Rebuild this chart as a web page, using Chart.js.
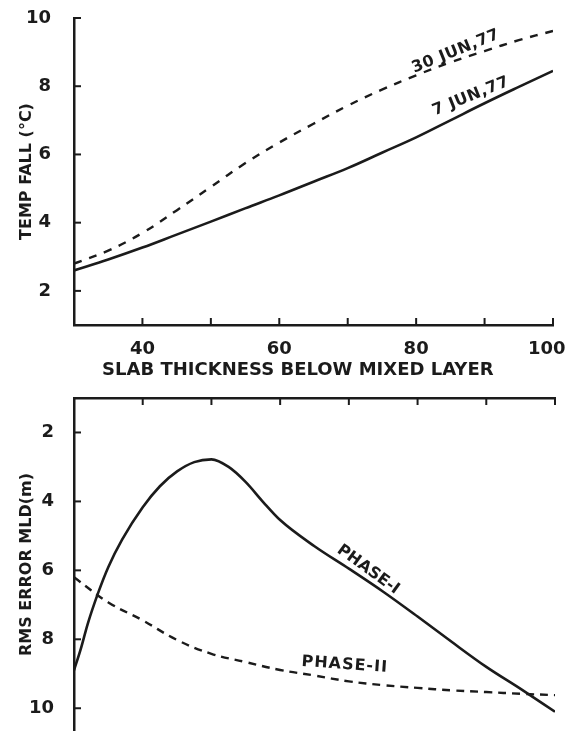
<!DOCTYPE html>
<html>
<head>
<meta charset="utf-8">
<script src="https://cdn.jsdelivr.net/npm/chart.js@4.4.1/dist/chart.umd.min.js"></script>
<style>
  html, body { margin: 0; padding: 0; background: #fff; }
  body { width: 570px; height: 731px; position: relative; overflow: hidden; }
  .panel { position: absolute; left: 0; width: 570px; }
  #topPanel { top: 0; height: 390px; }
  #bottomPanel { top: 390px; height: 341px; }
</style>
</head>
<body>
<div class="panel" id="topPanel"><canvas id="tempChart"></canvas></div>
<div class="panel" id="bottomPanel"><canvas id="rmsChart"></canvas></div>
<script>
// upper panel: temp fall vs slab thickness below mixed layer
const slabThickness = [30, 35, 40, 45, 50, 55, 60, 65, 70, 75, 80, 85, 90, 95, 100];
const tempFall7Jun = [2.6, 2.92, 3.27, 3.65, 4.03, 4.42, 4.8, 5.2, 5.6, 6.05, 6.5, 7.0, 7.5, 7.98, 8.45];
const tempFall30Jun = [2.8, 3.18, 3.7, 4.36, 5.05, 5.74, 6.35, 6.9, 7.43, 7.9, 8.32, 8.7, 9.03, 9.35, 9.62];
const tempTicks = [2, 4, 6, 8, 10];

// lower panel: rms error of MLD
const phase1Slab = [30, 31, 32, 33.5, 35, 37, 40, 42.5, 45, 47.5, 50, 52.5, 55, 57.5, 60, 65, 70, 75, 80, 85, 90, 95, 100];
const phase1Rms = [8.9, 8.27, 7.55, 6.66, 5.9, 5.11, 4.17, 3.56, 3.13, 2.86, 2.78, 3.0, 3.44, 4.01, 4.54, 5.3, 5.95, 6.62, 7.34, 8.08, 8.8, 9.44, 10.1];
const phase2Slab = [30, 35, 40, 45, 50, 55, 60, 65, 70, 75, 80, 85, 90, 95, 100];
const phase2Rms = [6.2, 6.93, 7.45, 8.02, 8.42, 8.66, 8.89, 9.05, 9.22, 9.33, 9.41, 9.48, 9.53, 9.58, 9.62];
const rmsTicks = [2, 4, 6, 8, 10];

const slabTicks = [30, 40, 50, 60, 70, 80, 90, 100];
const slabLabels = [40, 60, 80, 100];

const ink = "#1b1b1b";
const fontFamily = '"DejaVu Sans", "Liberation Sans", sans-serif';

Chart.defaults.font.family = fontFamily;
Chart.defaults.font.weight = "bold";
Chart.defaults.color = ink;

const toPoints = (xs, ys) => xs.map((x, i) => ({ x: x, y: ys[i] }));

// fixed axis size, and no extra room for the edge labels
const fixSize = (key, size) => (scale) => {
  scale[key] = size;
  scale.paddingTop = 0;
  scale.paddingBottom = 0;
  scale.paddingLeft = 0;
  scale.paddingRight = 0;
};

// small tick marks drawn inside the plot, like the original figure
const inwardTicks = {
  id: "inwardTicks",
  afterDatasetsDraw(chart) {
    const ctx = chart.ctx;
    const len = 7;
    ctx.save();
    ctx.strokeStyle = ink;
    ctx.lineWidth = 2;
    Object.values(chart.scales).forEach((scale) => {
      scale.ticks.forEach((t) => {
        const p = scale.getPixelForValue(t.value);
        ctx.beginPath();
        if (scale.isHorizontal()) {
          const y = scale.position === "top" ? scale.bottom : scale.top;
          const dir = scale.position === "top" ? 1 : -1;
          ctx.moveTo(p, y);
          ctx.lineTo(p, y + dir * len);
        } else {
          ctx.moveTo(scale.right, p);
          ctx.lineTo(scale.right + len, p);
        }
        ctx.stroke();
      });
    });
    ctx.restore();
  },
};

// curve names written along the lines
const curveLabels = {
  id: "curveLabels",
  afterDatasetsDraw(chart, args, opts) {
    const { ctx, scales } = chart;
    ctx.save();
    ctx.fillStyle = ink;
    ctx.textAlign = "center";
    ctx.textBaseline = "middle";
    (opts.items || []).forEach((item) => {
      const px = scales.x.getPixelForValue(item.x);
      const py = scales.y.getPixelForValue(item.y);
      ctx.save();
      ctx.translate(px, py);
      ctx.rotate((item.angle * Math.PI) / 180);
      ctx.font = `bold ${item.size}px ${fontFamily}`;
      if ("letterSpacing" in ctx) ctx.letterSpacing = (item.spacing || 0) + "px";
      ctx.fillText(item.text, 0, 0);
      ctx.restore();
    });
    ctx.restore();
  },
};

const axisLine = { display: true, color: ink, width: 2.5 };
const noGrid = { display: true, drawOnChartArea: false, drawTicks: false };

new Chart(document.getElementById("tempChart").getContext("2d"), {
  type: "line",
  data: {
    datasets: [
      {
        label: "7 JUN,77",
        data: toPoints(slabThickness, tempFall7Jun),
        borderColor: ink,
        borderWidth: 2.6,
        pointRadius: 0,
        tension: 0.4,
      },
      {
        label: "30 JUN,77",
        data: toPoints(slabThickness, tempFall30Jun),
        borderColor: ink,
        borderWidth: 2.4,
        borderDash: [8, 8],
        pointRadius: 0,
        tension: 0.4,
      },
    ],
  },
  options: {
    responsive: true,
    maintainAspectRatio: false,
    animation: false,
    layout: { padding: { top: 18, right: 17, left: 0, bottom: 0 } },
    plugins: {
      legend: { display: false },
      tooltip: { enabled: false },
      curveLabels: {
        items: [
          { text: "30 JUN,77", x: 85.8, y: 9.02, angle: -22, size: 16, spacing: 0.5 },
          { text: "7 JUN,77", x: 88, y: 7.7, angle: -22, size: 16, spacing: 0.5 },
        ],
      },
    },
    scales: {
      x: {
        type: "linear",
        min: 30,
        max: 100,
        grid: noGrid,
        border: axisLine,
        afterBuildTicks: (scale) => {
          scale.ticks = slabTicks.map((v) => ({ value: v }));
        },
        afterFit: fixSize("height", 65),
        ticks: {
          padding: 14,
          maxRotation: 0,
          font: { size: 18, weight: "bold" },
          // the last label sits a little left of its tick in the original
          callback: (v) => (slabLabels.includes(v) ? (v === 100 ? "100  " : String(v)) : ""),
        },
        title: {
          display: true,
          text: "SLAB THICKNESS BELOW MIXED LAYER     ",
          font: { size: 18, weight: "bold" },
          padding: { top: 0, bottom: 9 },
        },
      },
      y: {
        min: 1,
        max: 10,
        grid: noGrid,
        border: axisLine,
        afterBuildTicks: (scale) => {
          scale.ticks = tempTicks.map((v) => ({ value: v }));
        },
        afterFit: fixSize("width", 74),
        ticks: { padding: 23, font: { size: 18, weight: "bold" } },
        title: {
          display: true,
          text: "TEMP FALL (°C)",
          font: { size: 16, weight: "bold" },
          padding: { top: 17, bottom: 0 },
        },
      },
    },
  },
  plugins: [inwardTicks, curveLabels],
});

new Chart(document.getElementById("rmsChart").getContext("2d"), {
  type: "line",
  data: {
    datasets: [
      {
        label: "PHASE-I",
        data: toPoints(phase1Slab, phase1Rms),
        borderColor: ink,
        borderWidth: 2.6,
        pointRadius: 0,
        cubicInterpolationMode: "monotone",
      },
      {
        label: "PHASE-II",
        data: toPoints(phase2Slab, phase2Rms),
        borderColor: ink,
        borderWidth: 2.4,
        borderDash: [8, 6],
        pointRadius: 0,
        tension: 0.4,
      },
    ],
  },
  options: {
    responsive: true,
    maintainAspectRatio: false,
    animation: false,
    layout: { padding: { top: 0, right: 15, left: 0, bottom: 0 } },
    plugins: {
      legend: { display: false },
      tooltip: { enabled: false },
      curveLabels: {
        items: [
          { text: "PHASE-I", x: 72.8, y: 5.98, angle: 36, size: 16, spacing: 0 },
          { text: "PHASE-II", x: 69.4, y: 8.74, angle: 4, size: 16, spacing: 1 },
        ],
      },
    },
    scales: {
      x: {
        type: "linear",
        position: "top",
        min: 30,
        max: 100,
        grid: noGrid,
        border: axisLine,
        afterBuildTicks: (scale) => {
          scale.ticks = slabTicks.map((v) => ({ value: v }));
        },
        afterFit: fixSize("height", 8),
        ticks: { display: false },
      },
      y: {
        reverse: true,
        min: 1,
        max: 10.66,
        grid: noGrid,
        border: axisLine,
        afterBuildTicks: (scale) => {
          scale.ticks = rmsTicks.map((v) => ({ value: v }));
        },
        afterFit: fixSize("width", 74),
        ticks: { padding: 20, font: { size: 18, weight: "bold" } },
        title: {
          display: true,
          text: "RMS ERROR MLD(m)",
          font: { size: 16, weight: "bold" },
          padding: { top: 17, bottom: 0 },
        },
      },
    },
  },
  plugins: [inwardTicks, curveLabels],
});
</script>
</body>
</html>
